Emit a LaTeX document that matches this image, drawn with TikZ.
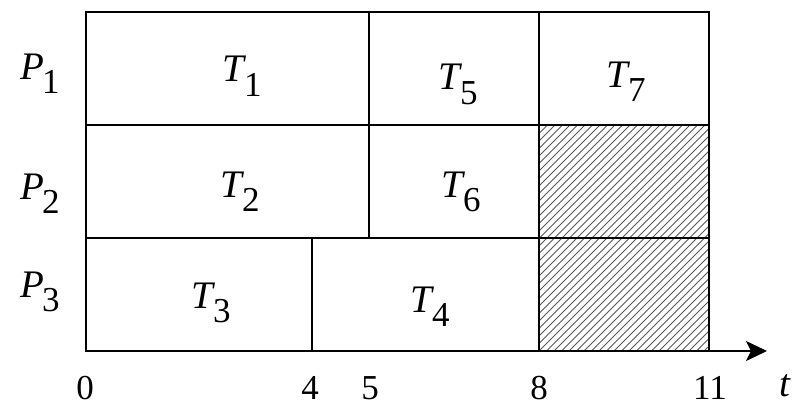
\documentclass[tikz,border=0pt]{standalone}
\usepackage{fontspec}
\setmainfont{Liberation Serif}
\usetikzlibrary{arrows.meta}
\newcommand{\plbl}[2]{\textit{#1}\kern-2pt\raisebox{-14pt}{\fontsize{35}{35}\selectfont #2}}
\begin{document}
\begin{tikzpicture}[x=1pt,y=-1pt,
  grid/.style={draw=black,line width=1.8pt},
  lbl/.style={font=\fontsize{39}{39}\selectfont,inner sep=0pt,anchor=base west},
  num/.style={font=\fontsize{35}{35}\selectfont,inner sep=0pt,anchor=base,text depth=0pt},
  hatch/.style={draw=black!65,line width=0.9pt}]
\useasboundingbox (0,0) rectangle (794,409);
% hatching
\begin{scope}
\clip (539,125) rectangle (709,351);
\foreach \i in {-240,-232.5,...,180} {
  \draw[hatch] (539+\i,351) -- ++(226,-226);
}
\end{scope}
% grid
\draw[grid] (86,12) rectangle (709,351);
\draw[grid] (86,125) -- (709,125);
\draw[grid] (86,238) -- (709,238);
\draw[grid] (369,12) -- (369,238);
\draw[grid] (539,12) -- (539,351);
\draw[grid] (312,238) -- (312,351);
\coordinate (o) at (86,351);
\coordinate (e) at (767,351);
\draw[line width=1.8pt,-{Stealth[length=21pt,width=20pt,inset=5pt]}] (o) -- (e);
% labels
\node[lbl] (p1) at (20,80) {\plbl{P}{1}};
\node[lbl] (p2) at (20,199) {\plbl{P}{2}};
\node[lbl] (p3) at (20,297) {\plbl{P}{3}};
\node[lbl] (t1) at (222,82) {\plbl{T}{1}};
\node[lbl] (t5) at (438,90) {\plbl{T}{5}};
\node[lbl] (t7) at (606,88) {\plbl{T}{7}};
\node[lbl] (t2) at (220,197) {\plbl{T}{2}};
\node[lbl] (t6) at (441,197) {\plbl{T}{6}};
\node[lbl] (t3) at (191,308) {\plbl{T}{3}};
\node[lbl] (t4) at (410,312) {\plbl{T}{4}};
\node[num] (n0) at (85,399) {0};
\node[num] (n4) at (310,399) {4};
\node[num] (n5) at (370,399) {5};
\node[num] (n8) at (539,399) {8};
\node[num] (n11) at (710,399) {11};
\node[lbl,text depth=0pt] (tt) at (779,396) {\textit{t}};
\end{tikzpicture}
\end{document}
